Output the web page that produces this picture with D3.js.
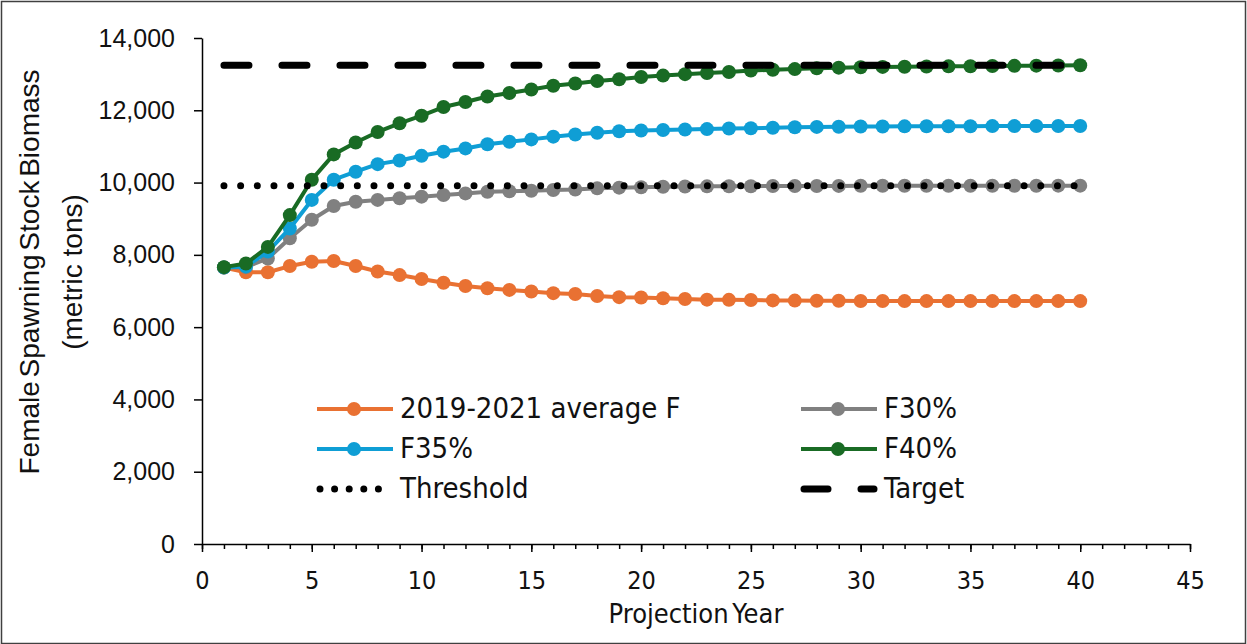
<!DOCTYPE html>
<html>
<head>
<meta charset="utf-8">
<script src="https://cdn.jsdelivr.net/npm/d3@7"></script>
<style>
  body { margin: 0; background: #fff; }
  .narrow { font-family: "DejaVu Sans Condensed", "DejaVu Sans", sans-serif; font-stretch: condensed; }
</style>
</head>
<body>
<div id="chart"></div>
<script>
// projection years 1..40
var years = [1,2,3,4,5,6,7,8,9,10,11,12,13,14,15,16,17,18,19,20,
             21,22,23,24,25,26,27,28,29,30,31,32,33,34,35,36,37,38,39,40];

var avgF = [7650,7520,7520,7690,7810,7830,7690,7540,7440,7330,7230,7140,7075,7030,6985,6940,6915,6860,6830,6820,
            6800,6780,6760,6755,6750,6740,6735,6730,6730,6725,6725,6720,6720,6720,6720,6720,6720,6720,6720,6720];
var f30 = [7650,7660,7900,8460,8970,9350,9470,9520,9565,9610,9655,9700,9745,9760,9775,9795,9810,9840,9860,9870,
           9885,9890,9895,9900,9900,9905,9905,9905,9908,9910,9910,9910,9912,9912,9912,9914,9914,9914,9915,9915];
var f35 = [7650,7680,8090,8730,9520,10080,10300,10510,10610,10740,10855,10945,11060,11130,11195,11270,11330,11380,11420,11440,
           11455,11470,11480,11495,11505,11515,11530,11540,11545,11550,11552,11555,11557,11559,11560,11562,11563,11564,11565,11566];
var f40 = [7660,7760,8220,9100,10080,10780,11110,11400,11640,11850,12090,12230,12380,12480,12575,12680,12740,12810,12860,12920,
           12960,13000,13030,13060,13100,13120,13140,13160,13180,13190,13200,13205,13210,13215,13220,13225,13230,13235,13240,13245];
var threshold = 9910;
var target = 13245;

var yTicks = [0,2000,4000,6000,8000,10000,12000,14000];
var xTicks = [0,5,10,15,20,25,30,35,40,45];
var xMinor = [0,1,2,3,4,5,6,7,8,9,10,11,12,13,14,15,16,17,18,19,20,21,22,23,24,25,26,27,28,29,30,31,32,33,34,35,36,37,38,39,40,41,42,43,44,45];

var series = [
  {name: "2019-2021 average F", values: avgF, color: "#E97132"},
  {name: "F30%", values: f30, color: "#808080"},
  {name: "F35%", values: f35, color: "#0F9ED5"},
  {name: "F40%", values: f40, color: "#196B24"}
];

var W = 1247, H = 644;
var svg = d3.select("#chart").append("svg").attr("width", W).attr("height", H);

svg.append("rect")
    .attr("x", 1.5).attr("y", 1.5).attr("width", W - 3).attr("height", H - 2)
    .attr("fill", "#fff").attr("stroke", "#404040").attr("stroke-width", 1.5);

var x = d3.scaleLinear().domain([0, 45]).range([202, 1190]);
var y = d3.scaleLinear().domain([0, 14000]).range([544, 38]);

// y axis
var yAxis = svg.append("g")
    .attr("transform", "translate(202,0)")
    .call(d3.axisLeft(y).tickValues(yTicks).tickSize(8).tickSizeOuter(0).tickPadding(19)
      .tickFormat(d3.format(",")));
yAxis.select(".domain").attr("stroke", "#000").attr("stroke-width", 1.5);
yAxis.selectAll(".tick line").attr("stroke", "#000").attr("stroke-width", 1.5);
yAxis.selectAll("text").attr("font-family", "'Liberation Sans', Arial, sans-serif")
    .attr("font-size", 25).attr("fill", "#111");

// x axis minor ticks
var xMin = svg.append("g")
    .attr("transform", "translate(0,544)")
    .call(d3.axisBottom(x).tickValues(xMinor).tickSize(5).tickSizeOuter(0).tickFormat(""));
xMin.select(".domain").remove();
xMin.selectAll(".tick line").attr("stroke", "#000").attr("stroke-width", 1.5);

var xAxis = svg.append("g")
    .attr("transform", "translate(0,544)")
    .call(d3.axisBottom(x).tickValues(xTicks).tickSize(8).tickSizeOuter(0));
xAxis.select(".domain").attr("stroke", "#000").attr("stroke-width", 1.5);
xAxis.selectAll(".tick line").attr("stroke", "#000").attr("stroke-width", 1.5);
xAxis.selectAll("text").attr("class", "narrow").attr("font-size", 25).attr("fill", "#111")
    .attr("y", 45).attr("dy", null);

// axis titles
svg.append("text").attr("class", "narrow")
    .attr("x", 696).attr("y", 623).attr("text-anchor", "middle")
    .attr("font-size", 27).attr("word-spacing", -4).attr("fill", "#111")
    .text("Projection Year");

var yt = svg.append("g").attr("transform", "translate(0,272) rotate(-90)")
    .attr("font-family", "'Liberation Sans', Arial, sans-serif").attr("font-size", 28)
    .attr("fill", "#111").attr("text-anchor", "middle");
yt.append("text").attr("x", 0).attr("y", 39).attr("word-spacing", -4).text("Female Spawning Stock Biomass");
yt.append("text").attr("x", 0).attr("y", 82).text("(metric tons)");

// series
var line = d3.line().x(function(d) { return x(d[0]); }).y(function(d) { return y(d[1]); });

series.forEach(function(s) {
  var pts = years.map(function(yr, i) { return [yr, s.values[i]]; });
  var g = svg.append("g");
  g.append("path").datum(pts)
      .attr("d", line).attr("fill", "none")
      .attr("stroke", s.color).attr("stroke-width", 4).attr("stroke-linejoin", "round");
  g.selectAll("circle").data(pts).enter().append("circle")
      .attr("cx", function(d) { return x(d[0]); })
      .attr("cy", function(d) { return y(d[1]); })
      .attr("r", 7).attr("fill", s.color);
});

// reference lines
svg.append("line")
    .attr("x1", x(years[0])).attr("x2", x(years[years.length - 1]))
    .attr("y1", y(threshold)).attr("y2", y(threshold))
    .attr("stroke", "#000").attr("stroke-width", 7)
    .attr("stroke-linecap", "round").attr("stroke-dasharray", "0 16.67");
svg.append("line")
    .attr("x1", x(years[0])).attr("x2", x(years[years.length - 1]))
    .attr("y1", y(target)).attr("y2", y(target))
    .attr("stroke", "#000").attr("stroke-width", 7)
    .attr("stroke-linecap", "round").attr("stroke-dasharray", "25 33");

// legend
var legendItems = [
  {name: "2019-2021 average F", color: "#E97132", kind: "marker", lx: 317, ly: 409},
  {name: "F30%", color: "#808080", kind: "marker", lx: 801, ly: 409},
  {name: "F35%", color: "#0F9ED5", kind: "marker", lx: 317, ly: 449},
  {name: "F40%", color: "#196B24", kind: "marker", lx: 801, ly: 449},
  {name: "Threshold", color: "#000", kind: "dot", lx: 317, ly: 489},
  {name: "Target", color: "#000", kind: "dash", lx: 801, ly: 489}
];

var leg = svg.append("g");
legendItems.forEach(function(it) {
  var g = leg.append("g");
  if (it.kind == "marker") {
    g.append("line").attr("x1", it.lx).attr("x2", it.lx + 76).attr("y1", it.ly).attr("y2", it.ly)
        .attr("stroke", it.color).attr("stroke-width", 4);
    g.append("circle").attr("cx", it.lx + 37).attr("cy", it.ly).attr("r", 7).attr("fill", it.color);
  } else if (it.kind == "dot") {
    g.append("line").attr("x1", it.lx + 3).attr("x2", it.lx + 76).attr("y1", it.ly).attr("y2", it.ly)
        .attr("stroke", "#000").attr("stroke-width", 7)
        .attr("stroke-linecap", "round").attr("stroke-dasharray", "0 14.6");
  } else {
    g.append("line").attr("x1", it.lx + 3).attr("x2", it.lx + 73).attr("y1", it.ly).attr("y2", it.ly)
        .attr("stroke", "#000").attr("stroke-width", 7)
        .attr("stroke-linecap", "round").attr("stroke-dasharray", "24 33");
  }
  g.append("text").attr("class", "narrow")
      .attr("x", it.lx + 83).attr("y", it.ly + 9)
      .attr("font-size", 29).attr("fill", "#111")
      .text(it.name);
});
</script>
</body>
</html>
